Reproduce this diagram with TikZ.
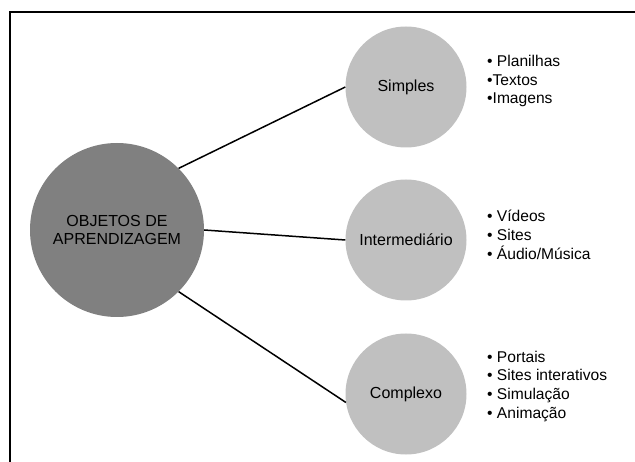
\documentclass[tikz,border=0pt]{standalone}
\usepackage{fontspec}
\setmainfont{Liberation Sans}
\definecolor{darkc}{RGB}{128,128,128}
\definecolor{lightc}{RGB}{192,192,192}
\begin{document}
\begin{tikzpicture}[x=1pt,y=-1pt,
  bigc/.style={circle,fill=darkc,minimum size=174pt,inner sep=0pt,align=center,font=\fontsize{16}{18.5}\selectfont},
  smallc/.style={circle,fill=lightc,minimum size=121pt,inner sep=0pt,font=\fontsize{16}{18.5}\selectfont},
  listtxt/.style={anchor=base west,align=left,inner sep=0pt,font=\fontsize{15.6}{18.8}\selectfont},
  conn/.style={line width=1.5pt,black}]
\useasboundingbox (0,0) rectangle (635,462);
\draw[line width=2pt] (10,462) -- (10,12) -- (635,12);
\node[bigc] (obj) at (117,230) {OBJETOS DE\\APRENDIZAGEM};
\node[smallc] (sim) at (406,87) {Simples};
\node[smallc] (int) at (406,240) {Intermedi\'ario};
\node[smallc] (com) at (406,394) {Complexo};
\draw[conn] (obj.45) -- (sim.west);
\draw[conn] (obj.east) -- (int.west);
\draw[conn] (obj.-45) -- (com.188);
\node[listtxt] (l1) at (487,104) {\textbullet\ Planilhas\\\textbullet Textos\\\textbullet Imagens};
\node[listtxt] (l2) at (487,259.5) {\textbullet\ Vídeos\\\textbullet\ Sites\\\textbullet\ Áudio/Música};
\node[listtxt] (l3) at (487,418.5) {\textbullet\ Portais\\\textbullet\ Sites interativos\\\textbullet\ Simulação\\\textbullet\ Animação};
\end{tikzpicture}
\end{document}
